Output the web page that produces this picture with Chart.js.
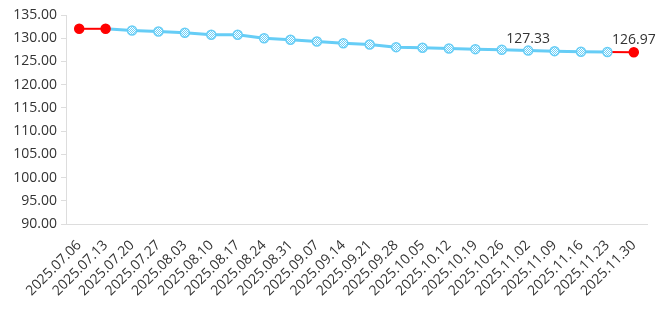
<!DOCTYPE html>
<html>
<head>
<meta charset="utf-8">
<script src="https://cdn.jsdelivr.net/npm/chart.js@4.4.1/dist/chart.umd.min.js"></script>
<style>
  html, body { margin: 0; padding: 0; background: #fff; }
  #wrap { width: 664px; height: 310px; position: relative; }
</style>
</head>
<body>
<div id="wrap"><canvas id="chart"></canvas></div>
<script>
// ── Data ──
const dates = ['2025.07.06','2025.07.13','2025.07.20','2025.07.27','2025.08.03','2025.08.10','2025.08.17','2025.08.24',
  '2025.08.31','2025.09.07','2025.09.14','2025.09.21','2025.09.28','2025.10.05','2025.10.12','2025.10.19',
  '2025.10.26','2025.11.02','2025.11.09','2025.11.16','2025.11.23','2025.11.30'];
const prices = [132.03, 132.03, 131.67, 131.45, 131.17, 130.74, 130.74, 130.01, 129.67, 129.30, 128.91,
  128.66, 128.08, 127.95, 127.80, 127.65, 127.52, 127.33, 127.22, 127.09, 127.02, 126.97];
const labelled = [17, 21];
const redPoints = [0, 1, 21];

const blue = '#66cdf6';
const red = '#ff0000';
const font = '"Open Sans", sans-serif';

// checkered fill for the blue markers
const pc = document.createElement('canvas');
pc.width = 2; pc.height = 2;
const pctx = pc.getContext('2d');
pctx.fillStyle = '#ffffff'; pctx.fillRect(0, 0, 2, 2);
pctx.fillStyle = '#6fd0f7'; pctx.fillRect(0, 0, 1, 1); pctx.fillRect(1, 1, 1, 1);
const checker = pctx.createPattern(pc, 'repeat');

const lastIdx = prices.length - 1;

// value labels above selected points
const valueLabels = {
  id: 'valueLabels',
  afterDatasetsDraw(chart) {
    const meta = chart.getDatasetMeta(0);
    const ctx = chart.ctx;
    ctx.save();
    ctx.font = '14px ' + font;
    ctx.fillStyle = '#333';
    ctx.textAlign = 'center';
    ctx.textBaseline = 'bottom';
    labelled.forEach(i => {
      const p = meta.data[i];
      ctx.fillText(prices[i].toFixed(2), p.x, p.y - 5);
    });
    ctx.restore();
  }
};

new Chart(document.getElementById('chart'), {
  type: 'line',
  data: {
    labels: dates,
    datasets: [{
      data: prices,
      borderColor: blue,
      borderWidth: 3,
      tension: 0,
      segment: {
        borderColor: c => (c.p0DataIndex === 0 || c.p1DataIndex === lastIdx) ? red : blue,
        borderWidth: c => (c.p0DataIndex === 0 || c.p1DataIndex === lastIdx) ? 2 : 3
      },
      pointRadius: 4.5,
      pointHoverRadius: 4.5,
      pointBorderWidth: 1.5,
      pointBackgroundColor: prices.map((v, i) => redPoints.includes(i) ? red : checker),
      pointBorderColor: prices.map((v, i) => redPoints.includes(i) ? red : blue)
    }]
  },
  options: {
    responsive: true,
    maintainAspectRatio: false,
    animation: false,
    layout: { padding: { top: 15, right: 17, left: 0, bottom: 0 } },
    plugins: { legend: { display: false }, tooltip: { enabled: false } },
    scales: {
      x: {
        offset: true,
        afterFit: s => { s.height = 86; },
        grid: { display: false },
        border: { display: true, color: '#dddddd' },
        ticks: {
          autoSkip: false, maxRotation: 45, minRotation: 45,
          color: '#333', font: { family: font, size: 14 }, padding: 5
        }
      },
      y: {
        min: 90, max: 135,
        afterFit: s => { s.width = 66; },
        grid: { drawOnChartArea: false, drawTicks: true, tickLength: 5, color: '#dddddd' },
        border: { display: true, color: '#dddddd' },
        ticks: {
          stepSize: 5, color: '#333', padding: 4,
          font: { family: font, size: 14 },
          callback: v => v.toFixed(2)
        }
      }
    }
  },
  plugins: [valueLabels]
});
</script>
</body>
</html>
